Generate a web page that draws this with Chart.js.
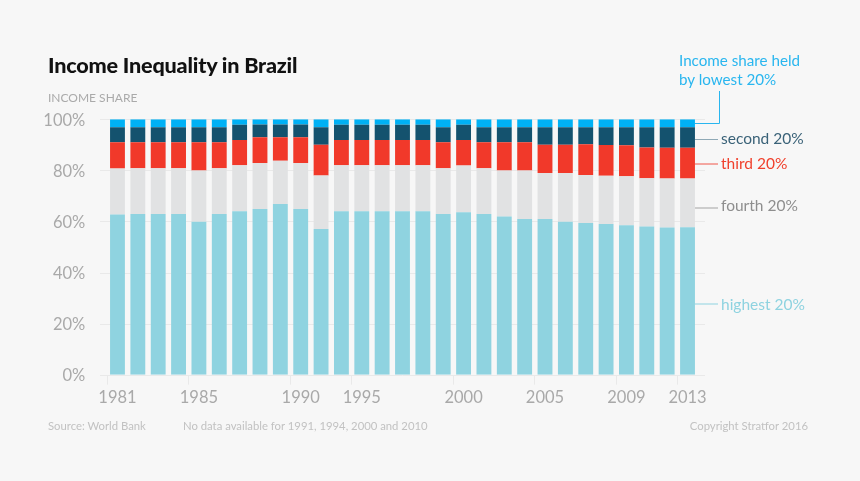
<!DOCTYPE html>
<html>
<head>
<meta charset="utf-8">
<title>Income Inequality in Brazil</title>
<script src="https://cdn.jsdelivr.net/npm/chart.js@4"></script>
<style>
  html, body { margin: 0; padding: 0; background: #f7f7f7; }
  #wrap { position: relative; width: 860px; height: 481px; overflow: hidden; font-family: Lato, sans-serif; }
  #wrap canvas { position: absolute; left: 0; top: 0; }
  .txt { position: absolute; white-space: nowrap; line-height: 1; }
  #title { left: 48px; top: 55px; font-size: 21.6px; font-weight: 900; color: #111; letter-spacing: -0.2px; }
  #sub { left: 48px; top: 92px; font-size: 12px; color: #aaa; }
  .foot { top: 420px; font-size: 11.3px; color: #c2c2c2; }
  .ann { font-size: 15.5px; }
</style>
</head>
<body>
<div id="wrap">
  <canvas id="chart" width="860" height="481"></canvas>
  <div class="txt" id="title">Income Inequality in Brazil</div>
  <div class="txt" id="sub">INCOME SHARE</div>
  <div class="txt ann" style="left:679px;top:51px;color:#29b6ef;line-height:19px;font-size:15.2px">Income share held<br>by lowest 20%</div>
  <div class="txt ann" style="left:721px;top:131px;color:#3a6278">second 20%</div>
  <div class="txt ann" style="left:721px;top:156px;color:#f0402c">third 20%</div>
  <div class="txt ann" style="left:721px;top:198px;color:#8e8e8e">fourth 20%</div>
  <div class="txt ann" style="left:721px;top:297px;color:#8ed3e0">highest 20%</div>
  <div class="txt foot" style="left:48px">Source: World Bank</div>
  <div class="txt foot" style="left:183px">No data available for 1991, 1994, 2000 and 2010</div>
  <div class="txt foot" style="right:52px">Copyright Stratfor 2016</div>
</div>
<script>
// blanks are years that get a bar but no label on the axis
const tickLabels = ["1981", "", "", "", "1985", "", "", "", "", "1990", "", "", "1995", "", "", "", "", "2000", "", "", "", "2005", "", "", "", "2009", "", "", "2013"];

// shares in percent, stacked from the bottom up
const highest = [62.7, 62.9, 62.9, 62.9, 59.9, 62.9, 64, 64.9, 66.8, 64.9, 57, 64, 64, 64, 64, 64, 62.9, 63.6, 62.9, 61.9, 61, 61, 59.9, 59.4, 59, 58.5, 58, 57.6, 57.7];
const fourth = [18, 17.9, 17.9, 17.9, 20.1, 17.9, 18, 18, 17, 18, 21, 18, 18, 18, 18, 18, 17.9, 18.3, 17.9, 18.1, 19, 18, 19.1, 18.8, 18.9, 19.2, 18.9, 19.2, 19.1];
const third = [10.3, 10.2, 10.2, 10.2, 11, 10.2, 9.9, 10.1, 9.2, 10.1, 12, 9.9, 9.9, 9.9, 9.9, 9.9, 10.2, 10, 10.2, 11, 11, 11, 11, 12, 12, 12.1, 12.1, 12.1, 12.1];
const second = [5.9, 5.9, 5.9, 5.9, 5.9, 5.9, 6, 5, 5, 5, 6.9, 6, 6, 6, 6, 6, 5.9, 6, 5.9, 5.9, 5.9, 6.9, 6.9, 6.7, 7, 7.1, 7.9, 8, 8];
const lowest = [3.1, 3.1, 3.1, 3.1, 3.1, 3.1, 2.1, 2, 2, 2, 3.1, 2.1, 2.1, 2.1, 2.1, 2.1, 3.1, 2.1, 3.1, 3.1, 3.1, 3.1, 3.1, 3.1, 3.1, 3.1, 3.1, 3.1, 3.1];
const yTicks = [0, 20, 40, 60, 80, 100];

const COLORS = {
  highest: "#8fd3e0",
  fourth: "#e1e2e3",
  third: "#f1392a",
  second: "#14526e",
  lowest: "#00b1f5",
  grid: "#e9e9e9",
  text: "#a9a9a9",
};

function series(label, data, color) {
  return { label, data, backgroundColor: color, barPercentage: 0.73, categoryPercentage: 1 };
}

// gridlines run a bit past the bars on both sides, so they are drawn by hand
const longGrid = {
  id: "longGrid",
  beforeDatasetsDraw(chart) {
    const { ctx, scales: { y } } = chart;
    ctx.save();
    ctx.strokeStyle = COLORS.grid;
    ctx.lineWidth = 1;
    yTicks.forEach((v) => {
      const py = Math.round(y.getPixelForValue(v)) + 0.5;
      ctx.beginPath();
      ctx.moveTo(100, py);
      ctx.lineTo(705, py);
      ctx.stroke();
    });
    ctx.restore();
  },
};

// thin lines from the last bar out to the labels on the right
const leaders = {
  id: "leaders",
  afterDraw(chart) {
    const { ctx } = chart;
    const lines = [
      { color: "#29b6ef", pts: [[695, 123.5], [719.5, 123.5], [719.5, 91]] },
      { color: "#8fa9b6", pts: [[695, 139.5], [718, 139.5]] },
      { color: "#f0574a", pts: [[695, 164], [718, 164]] },
      { color: "#a3a3a3", pts: [[695, 208], [718, 208]] },
      { color: "#8fd3e0", pts: [[695, 304], [718, 304]] },
    ];
    ctx.save();
    ctx.lineWidth = 1;
    lines.forEach((l) => {
      ctx.strokeStyle = l.color;
      ctx.beginPath();
      l.pts.forEach((p, i) => (i ? ctx.lineTo(p[0], p[1]) : ctx.moveTo(p[0], p[1])));
      ctx.stroke();
    });
    ctx.restore();
  },
};

// the axis digits in the original are tighter than Lato's
const canvas = document.getElementById("chart");
canvas.getContext("2d").letterSpacing = "-1.2px";

new Chart(canvas, {
  type: "bar",
  data: {
    labels: tickLabels,
    datasets: [
      series("highest 20%", highest, COLORS.highest),
      series("fourth 20%", fourth, COLORS.fourth),
      series("third 20%", third, COLORS.third),
      series("second 20%", second, COLORS.second),
      series("lowest 20%", lowest, COLORS.lowest),
    ],
  },
  options: {
    responsive: false,
    animation: false,
    layout: { padding: { top: 119.3, right: 162.3 } },
    scales: {
      x: {
        stacked: true,
        afterFit: (s) => { s.height = 106.3; },
        border: { display: false },
        grid: {
          drawOnChartArea: false,
          tickLength: 10,
          tickColor: (c) => (tickLabels[c.index] ? COLORS.grid : "transparent"),
        },
        ticks: {
          autoSkip: false,
          maxRotation: 0,
          padding: 3,
          color: COLORS.text,
          font: { family: "Lato", size: 16.5 },
        },
      },
      y: {
        stacked: true,
        min: 0,
        max: 100,
        afterFit: (s) => { s.width = 107.3; },
        afterBuildTicks: (s) => { s.ticks = yTicks.map((value) => ({ value })); },
        border: { display: false },
        grid: { display: false },
        ticks: {
          padding: 14,
          labelOffset: 1,
          color: COLORS.text,
          font: { family: "Lato", size: 16.5 },
          callback: (v) => v + "%",
        },
      },
    },
    plugins: { legend: { display: false }, tooltip: { enabled: false } },
  },
  plugins: [longGrid, leaders],
});
</script>
</body>
</html>
